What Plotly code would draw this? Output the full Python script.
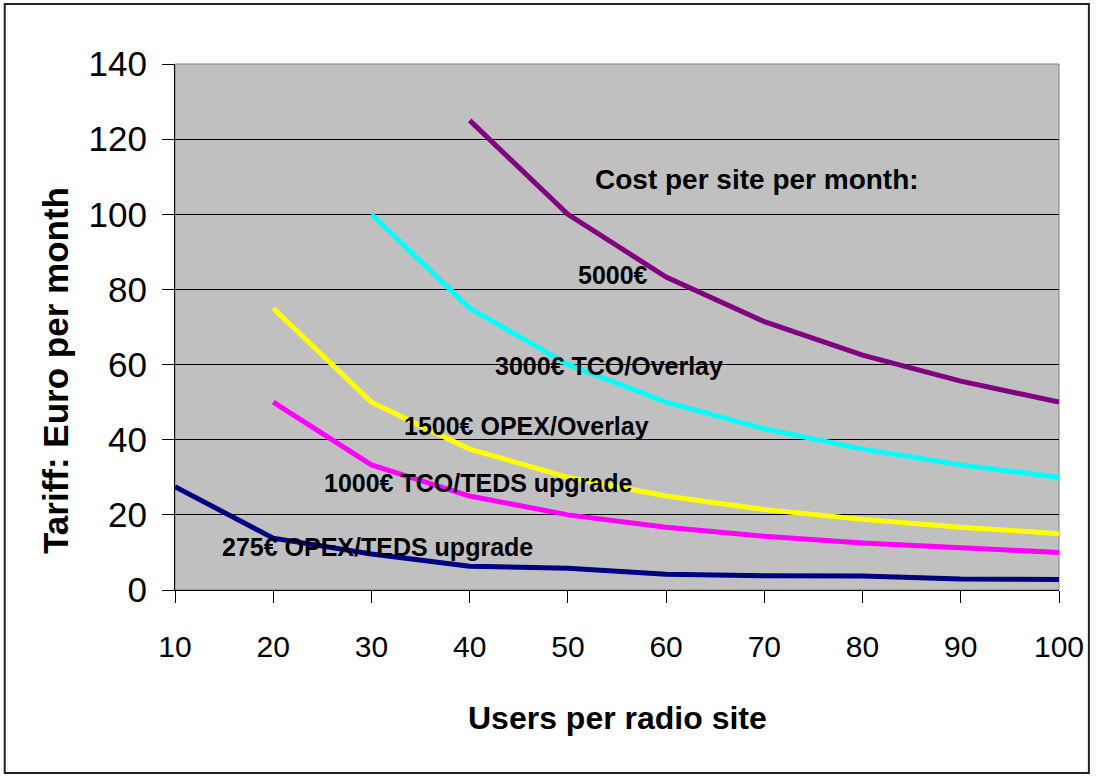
import plotly.graph_objects as go

# Users per radio site (x axis)
users = [10, 20, 30, 40, 50, 60, 70, 80, 90, 100]

# Tariff in Euro per month for each monthly site cost
cost_5000 = [None, None, None, 125, 100, 83.3, 71.4, 62.5, 55.6, 50]
cost_3000 = [None, None, 100, 75, 60, 50, 42.9, 37.5, 33.3, 30]
cost_1500 = [None, 75, 50, 37.5, 30, 25, 21.4, 18.8, 16.7, 15]
cost_1000 = [None, 50, 33.3, 25, 20, 16.7, 14.3, 12.5, 11.1, 10]
cost_275 = [27.5, 13.8, 9.6, 6.3, 5.8, 4.2, 3.8, 3.7, 2.9, 2.8]

series_names = ["5000€", "3000€ TCO/Overlay", "1500€ OPEX/Overlay",
                "1000€ TCO/TEDS upgrade", "275€ OPEX/TEDS upgrade"]
series_values = [cost_5000, cost_3000, cost_1500, cost_1000, cost_275]
series_colors = ["#800080", "#00FFFF", "#FFFF00", "#FF00FF", "#000080"]

# Label anchor (left edge x, centre y) in data units
label_pos = [(50.8, 83.8), (42.4, 59.7), (33.1, 43.6), (25.0, 28.6), (14.6, 11.4)]

y_ticks = [0, 20, 40, 60, 80, 100, 120, 140]
x_ticks = users

FONT = "Liberation Sans, Arial, sans-serif"

fig = go.Figure()
for name, vals, col in zip(series_names, series_values, series_colors):
    fig.add_trace(go.Scatter(x=users, y=vals, mode="lines", name=name,
                             line=dict(color=col, width=5),
                             connectgaps=False, hoverinfo="x+y+name"))

# Plot-area frame (gray), drawn below the black axis lines
fig.add_shape(type="rect", xref="paper", yref="paper", x0=0, x1=1, y0=0, y1=1,
              line=dict(color="#808080", width=1), layer="below")

# Outer chart border
fig.add_shape(type="rect", xref="paper", yref="paper",
              x0=-0.1926, x1=1.0338, y0=-0.348, y1=1.114,
              line=dict(color="#222222", width=2))

for name, (lx, ly) in zip(series_names, label_pos):
    fig.add_annotation(x=lx, y=ly, xref="x", yref="y", text=name,
                       showarrow=False, xanchor="left", yanchor="middle",
                       font=dict(family=FONT, size=25, color="black", weight="bold"))

fig.add_annotation(x=52.6, y=109.2, xref="x", yref="y",
                   text="Cost per site per month:", showarrow=False,
                   xanchor="left", yanchor="middle",
                   font=dict(family=FONT, size=28, color="black", weight="bold"))

# Axis titles
fig.add_annotation(x=0.5, y=-0.243, xref="paper", yref="paper",
                   text="Users per radio site", showarrow=False,
                   xanchor="center", yanchor="middle",
                   font=dict(family=FONT, size=32, color="black", weight="bold"))
fig.add_annotation(x=-0.136, y=0.418, xref="paper", yref="paper",
                   text="Tariff: Euro per month", showarrow=False, textangle=-90,
                   xanchor="center", yanchor="middle",
                   font=dict(family=FONT, size=35, color="black", weight="bold"))

fig.update_layout(
    width=1096, height=776,
    margin=dict(l=175, r=33, t=64, b=186),
    paper_bgcolor="white",
    plot_bgcolor="#C0C0C0",
    showlegend=False,
    font=dict(family=FONT, color="black"),
    xaxis=dict(range=[10, 100], tickmode="array", tickvals=x_ticks,
               ticktext=[str(v) for v in x_ticks],
               showgrid=False, zeroline=False,
               showline=True, linecolor="black", linewidth=1,
               ticks="outside", ticklen=12, tickcolor="black", tickwidth=1,
               ticklabelstandoff=18,
               tickfont=dict(family=FONT, size=30, color="black")),
    yaxis=dict(range=[0, 140], tickmode="array", tickvals=y_ticks,
               showgrid=True, gridcolor="black", gridwidth=1, zeroline=False,
               showline=True, linecolor="black", linewidth=1,
               ticks="outside", ticklen=12, tickcolor="black", tickwidth=1,
               ticklabelstandoff=8,
               tickfont=dict(family=FONT, size=35, color="black")),
)

fig.write_html("out.html")
